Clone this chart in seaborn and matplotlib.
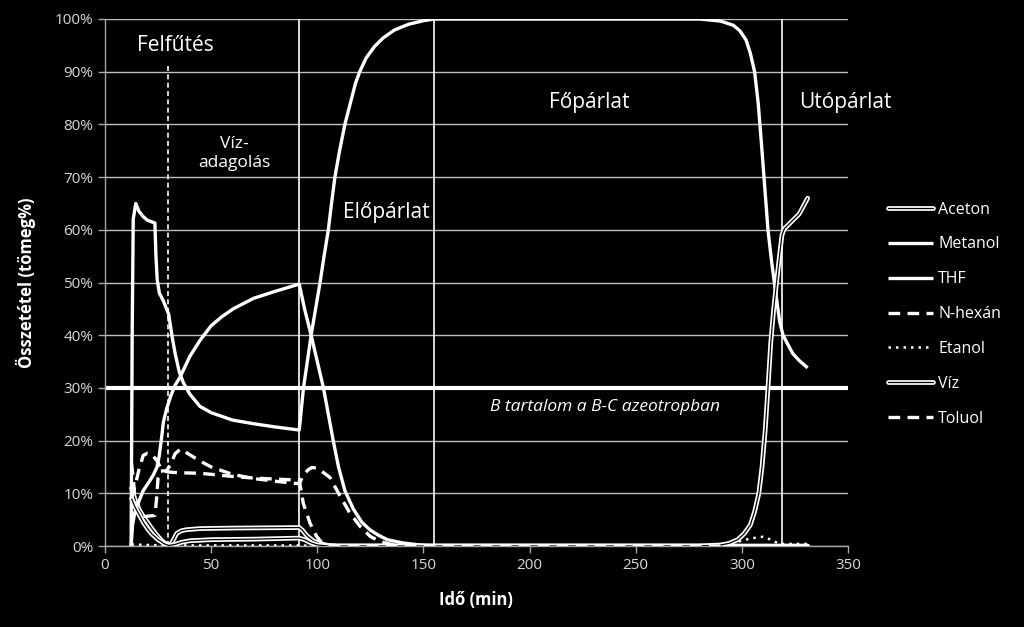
import numpy as np
import pandas as pd
import matplotlib
matplotlib.use("Agg")
import matplotlib.pyplot as plt
import matplotlib.patheffects as pe
from matplotlib.ticker import PercentFormatter
import seaborn as sns

# ---------------- data (time in min, composition in mass %) ----------------
t_aceton = [12.5, 14, 16, 18, 20, 22.6, 25, 27.3, 29.8, 31, 32, 33.8, 36, 38.5, 44.7, 60, 91.5,
            93, 95, 98, 101, 105, 110, 331]
v_aceton = [11, 9, 7, 5.6, 4.5, 3, 1.8, 0.8, 0.2, 0.3, 1, 2.4, 2.9, 3.1, 3.3, 3.4, 3.5,
            3, 2, 1, 0.5, 0.1, 0, 0]

t_metanol = [12.3, 13, 14, 16, 18, 20.5, 22.8, 24.5, 25.5, 26.7, 27.5, 29, 31, 33, 35.3, 40, 44.7,
             50, 55, 60.4, 70, 80, 91.5, 94, 97.1, 100, 102.9, 105.2, 107.5, 110, 113, 117, 121,
             125, 129, 133, 140, 148, 155, 331]
v_metanol = [0, 4, 6.3, 8.5, 10.5, 12, 13.5, 15, 17, 20.7, 23.5, 26, 28.5, 30.5, 32, 36, 39,
             41.8, 43.5, 45, 47, 48.3, 49.7, 45, 40, 35, 30, 25, 20, 15, 10.5, 7, 4.5,
             3, 2, 1.2, 0.6, 0.2, 0, 0]

t_thf = [12.3, 12.8, 13.3, 14.5, 16, 18, 20, 23.5, 24, 24.6, 25.6, 27.5, 29, 30, 31.5, 33, 35,
         37, 40, 44.7, 50, 60, 70, 80, 91.5, 92, 93.5, 95.3, 97.1, 99.2, 101.3, 103.2, 105.2,
         106.7, 108.3, 110.5, 113, 116.2, 118, 120, 123, 127, 131, 136.3, 143, 150.3, 155, 200,
         250, 280, 290, 296, 299, 302, 304, 306, 307.7, 309.2, 310.8, 312.3, 314, 315.5, 317.8,
         319.4, 322, 324, 327, 331]
v_thf = [0, 40, 62, 65, 63.5, 62.5, 61.8, 61.3, 55, 50.5, 48, 46.5, 45, 44, 40, 36.6, 33,
         30.9, 28.8, 26.5, 25.3, 23.9, 23.2, 22.6, 22, 24, 30, 35, 40, 45, 50, 55, 60,
         65, 70, 75, 80, 85, 87.8, 90, 92.6, 94.8, 96.4, 97.9, 99, 99.7, 100, 100,
         100, 100, 99.6, 98.8, 97.8, 96, 93.5, 90, 84, 76.5, 68, 60, 54, 49.4, 42.6,
         40, 38, 36.5, 35.2, 33.8]

t_hexan = [12.5, 13.5, 14.5, 16, 19, 23.5, 24.3, 25, 26, 29, 31, 33, 35.5, 38, 44, 50, 60, 70,
           80, 91.5, 93.5, 95.8, 97.5, 99.7, 102, 106, 110, 115, 120, 125, 130, 135, 140, 331]
v_hexan = [15.7, 12, 7, 6, 5.6, 5.8, 9, 13, 14.2, 14.3, 15.5, 17.5, 18.4, 17.8, 16.3, 15, 13.6,
           12.8, 12.3, 11.8, 13.5, 14.5, 14.9, 14.8, 14.2, 13, 10, 6.5, 3.8, 1.8, 0.8, 0.3, 0, 0]

t_etanol = [12.5, 20, 30, 91.5, 100, 280, 290, 297.5, 300.6, 304.6, 307.7, 310, 313, 315.6,
            318, 331]
v_etanol = [0.3, 0.2, 0.1, 0.1, 0, 0, 0.3, 0.75, 1.1, 1.45, 1.65, 1.75, 1.3, 0.8, 0.4, 0.4]

t_viz = [12.5, 14, 16, 18, 20, 22, 25, 28, 30, 33, 36, 40, 50, 70, 91.5, 94, 97, 100, 105,
         280, 285, 290, 294, 298, 301, 304, 306, 308, 309.5, 311, 312.3, 313.6, 315, 316.6,
         318, 318.9, 320, 321, 324, 327, 329, 331]
v_viz = [9, 7.5, 6, 4.5, 3.3, 2.3, 1.2, 0.4, 0.1, 0.3, 0.7, 1.0, 1.2, 1.3, 1.5, 1.2, 0.6, 0.2, 0,
         0, 0.1, 0.2, 0.5, 1.2, 2.3, 4, 6.5, 10, 15, 22, 30, 38.5, 45, 51, 56, 59, 60.2,
         60.6, 61.8, 63, 64.5, 66]

t_toluol = [12.5, 14.1, 16, 18, 20, 22, 24.3, 26, 27.5, 29, 31, 35, 44.7, 50, 60, 70, 80, 91.5,
            93.4, 96.6, 99.7, 102, 105, 110, 331]
v_toluol = [9, 11.3, 14.5, 17.2, 17.6, 17.4, 16.3, 15, 14.4, 14.1, 14, 13.9, 13.8, 13.6, 13.2,
            12.9, 12.7, 12.5, 8.1, 4.3, 1.8, 0.7, 0.2, 0, 0]

series_names = ["Aceton", "Metanol", "THF", "N-hexán", "Etanol", "Víz", "Toluol"]
series_t = [t_aceton, t_metanol, t_thf, t_hexan, t_etanol, t_viz, t_toluol]
series_v = [v_aceton, v_metanol, v_thf, v_hexan, v_etanol, v_viz, v_toluol]

azeotrope_level = 30          # B content in the B-C azeotrope (%)
water_start = 29.5            # start of water dosing (min)
phase_bounds = [91.5, 155, 319]

x_ticks = [0, 50, 100, 150, 200, 250, 300, 350]
y_ticks = [0, 10, 20, 30, 40, 50, 60, 70, 80, 90, 100]

# ---------------- styles ----------------
styles = {
    "Aceton":  dict(kind="double"),
    "Metanol": dict(kind="solid"),
    "THF":     dict(kind="solid"),
    "N-hexán": dict(kind="dashed"),
    "Etanol":  dict(kind="dotted"),
    "Víz":     dict(kind="double"),
    "Toluol":  dict(kind="dashed"),
}

sns.set_style("ticks", {"axes.facecolor": "black", "figure.facecolor": "black"})
plt.rcParams['font.family'] = ['Open Sans', 'DejaVu Sans']

fig = plt.figure(figsize=(10.24, 6.27), dpi=100, facecolor="black")
ax = fig.add_axes([105 / 1024, 81 / 627, 743 / 1024, 527 / 627])
ax.set_facecolor("black")

ax.set_xlim(0, 350)
ax.set_ylim(0, 100)
ax.set_xticks(x_ticks)
ax.set_yticks(y_ticks)
ax.yaxis.set_major_formatter(PercentFormatter(100, decimals=0))
ax.yaxis.grid(True, color="#bfbfbf", lw=1.0)
ax.xaxis.grid(False)
ax.set_axisbelow(True)

for s in ["top", "right"]:
    ax.spines[s].set_visible(False)
for s in ["left", "bottom"]:
    ax.spines[s].set_color("#a6a6a6")
    ax.spines[s].set_linewidth(1.0)
ax.tick_params(axis="both", colors="#a6a6a6", direction="out", length=5, width=1,
               labelcolor="#d9d9d9", labelsize=11)

# reference lines
ax.axhline(azeotrope_level, color="white", lw=3, zorder=2)
ax.axvline(water_start, ymin=0, ymax=0.91, color="white", lw=1.2, ls=(0, (3, 2)), zorder=2)
for xb in phase_bounds:
    ax.axvline(xb, color="white", lw=1.2, zorder=2)

handles = []
for name, t, v in zip(series_names, series_t, series_v):
    df = pd.DataFrame({"t": t, "v": v})
    kind = styles[name]["kind"]
    kw = dict(data=df, x="t", y="v", ax=ax, estimator=None, sort=False, legend=False)
    if kind == "solid":
        sns.lineplot(**kw, color="white", lw=2.4, solid_capstyle="butt", zorder=4)
    elif kind == "dashed":
        sns.lineplot(**kw, color="white", lw=2.4, ls=(0, (3.5, 2.2)), zorder=4)
    elif kind == "dotted":
        sns.lineplot(**kw, color="white", lw=1.8, ls=(0, (1, 2)), zorder=4)
    else:
        sns.lineplot(**kw, color="black", lw=0.9, zorder=4,
                     path_effects=[pe.Stroke(linewidth=3.4, foreground="white"), pe.Normal()])
    handles.append(ax.lines[-1])

ax.set_xlabel("Idő (min)", color="white", fontsize=12, fontweight="bold")
ax.set_ylabel("Összetétel (tömeg%)", color="white", fontsize=12, fontweight="bold")
ax.xaxis.set_label_coords(0.4993, -0.085)
ax.yaxis.set_label_coords(-0.093, 0.5)

fig.legend(handles, series_names, loc="center left", bbox_to_anchor=(0.867, 0.499),
           frameon=False, labelcolor="white", fontsize=11.5, handlelength=2.8,
           handletextpad=0.35, labelspacing=1.18, borderpad=0, borderaxespad=0)

txt = dict(color="white", ha="center", va="center")
ax.text(33, 94.9, "Felfűtés", fontsize=15, **txt)
ax.text(61, 74.5, "Víz-\nadagolás", fontsize=12.5, linespacing=1.25, **txt)
ax.text(132.6, 63.2, "Előpárlat", fontsize=15, **txt)
ax.text(228, 84.2, "Főpárlat", fontsize=15, **txt)
ax.text(348.6, 84.2, "Utópárlat", fontsize=15, clip_on=False, **txt)
ax.text(235.5, 26.4, "B tartalom a B-C azeotropban", fontsize=12.5, style="italic", **txt)

fig.savefig("out.png", dpi=100, facecolor="black")
